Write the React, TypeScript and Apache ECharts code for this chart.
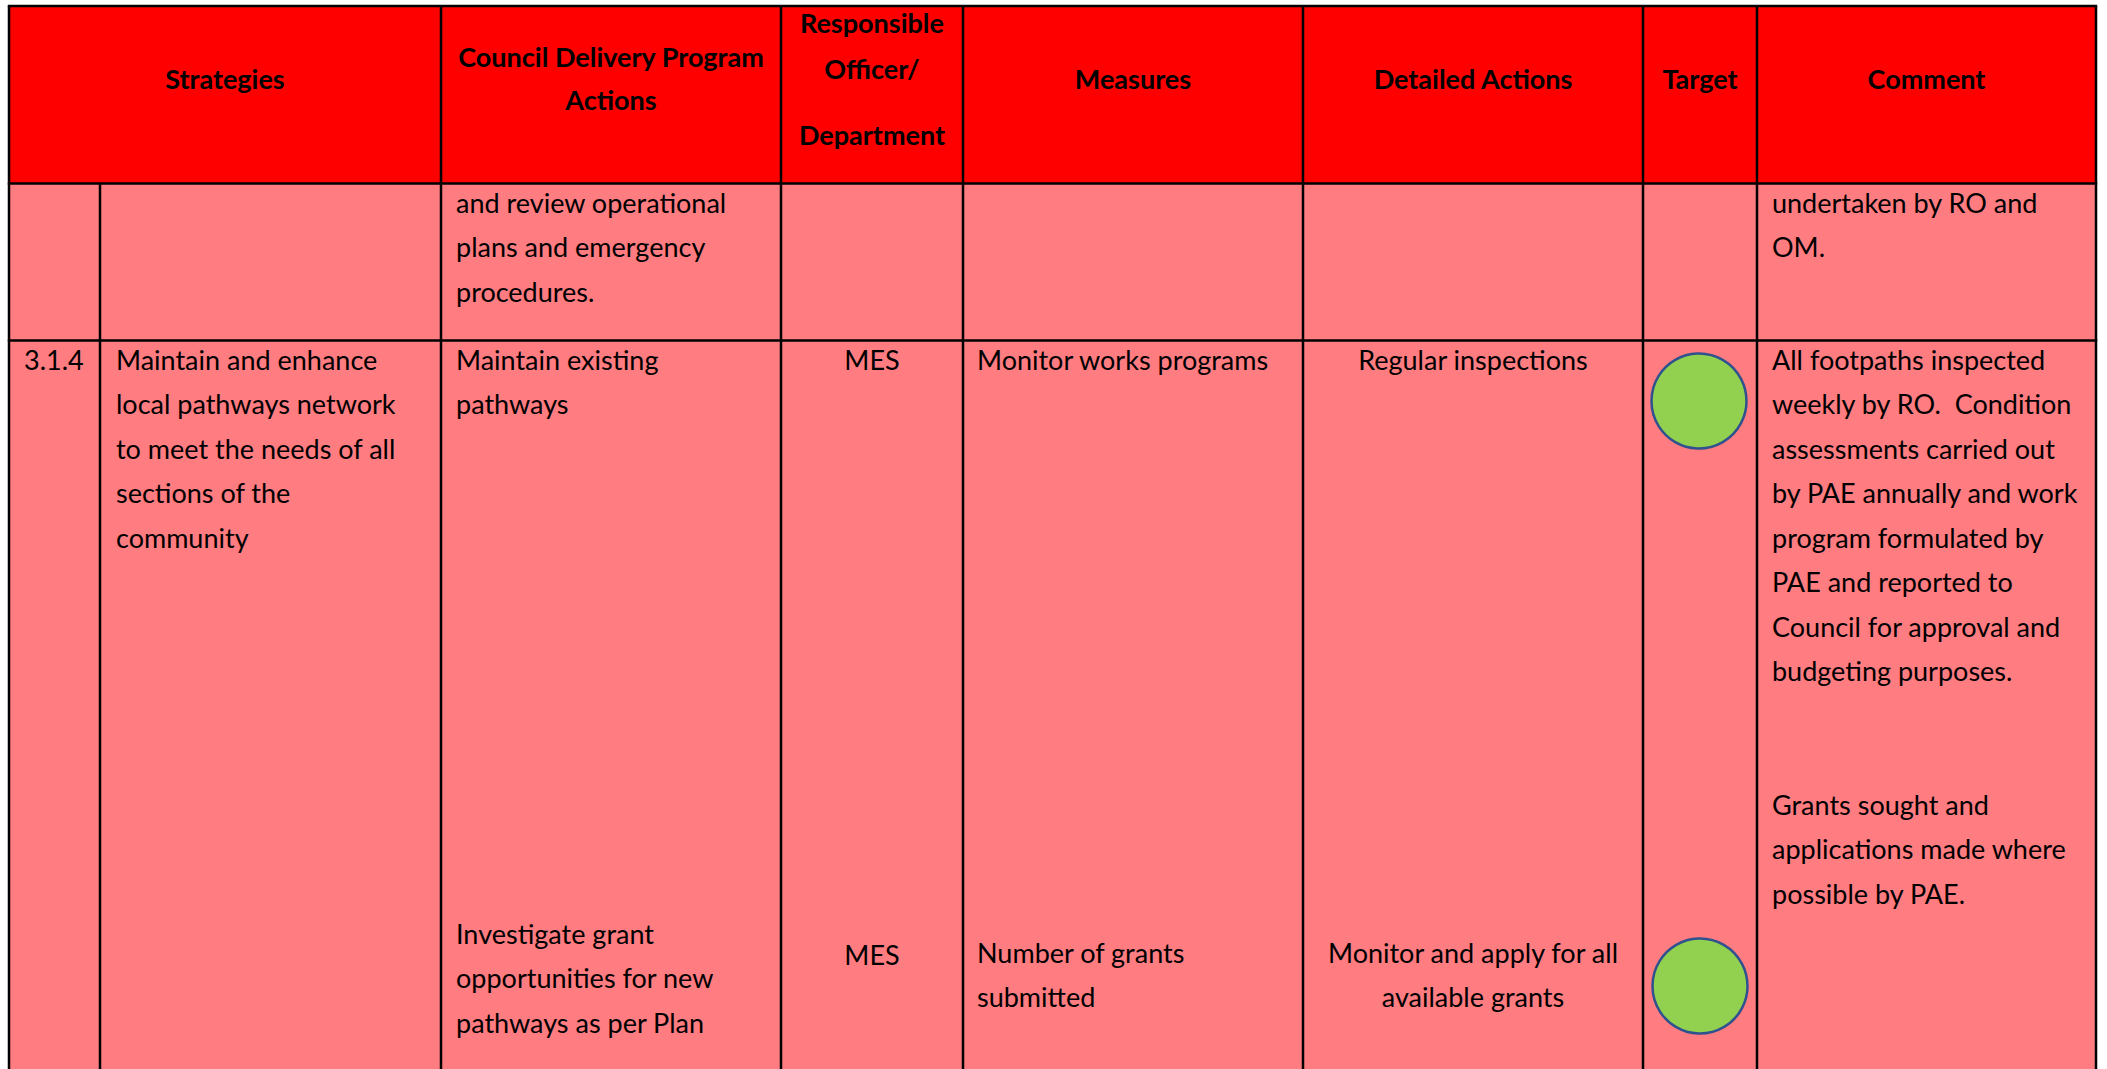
import React, { useEffect, useRef } from "react";
import * as echarts from "echarts";

// ---------- content ----------
const headerStrategies = ["Strategies"];
const headerCouncil = ["Council Delivery Program", "Actions"];
const headerOfficer = ["Responsible", "Officer/", "Department"];
const headerMeasures = ["Measures"];
const headerDetailed = ["Detailed Actions"];
const headerTarget = ["Target"];
const headerComment = ["Comment"];

const row1Council = ["and review operational", "plans and emergency", "procedures."];
const row1Comment = ["undertaken by RO and", "OM."];

const row2Code = ["3.1.4"];
const row2Strategy = ["Maintain and enhance", "local pathways network", "to meet the needs of all", "sections of the", "community"];
const row2CouncilA = ["Maintain existing", "pathways"];
const row2CouncilB = ["Investigate grant", "opportunities for new", "pathways as per Plan"];
const row2OfficerA = ["MES"];
const row2OfficerB = ["MES"];
const row2MeasuresA = ["Monitor works programs"];
const row2MeasuresB = ["Number of grants", "submitted"];
const row2DetailedA = ["Regular inspections"];
const row2DetailedB = ["Monitor and apply for all", "available grants"];
const row2Comment = [
  "All footpaths inspected",
  "weekly by RO.  Condition",
  "assessments carried out",
  "by PAE annually and work",
  "program formulated by",
  "PAE and reported to",
  "Council for approval and",
  "budgeting purposes.",
  "",
  "",
  "Grants sought and",
  "applications made where",
  "possible by PAE.",
];
const targetStatus = ["green", "green"];

// ---------- layout ----------
const COLS = [9, 100, 441, 781, 963, 1303, 1643, 1757, 2096];
const TOP = 6;
const HEAD_BOTTOM = 183.5;
const ROW1_BOTTOM = 340.5;
const BOTTOM = 1069;
const PITCH = 44.5;
const FONT = "Lato, 'Open Sans', sans-serif";
const FS = 27;
const HEADER_RED = "#FF0000";
const BODY_PINK = "#FF7C80";
const STATUS_FILL: Record<string, string> = { green: "#92D050" };

function textLines(
  lines: string[],
  x: number,
  firstBaseline: number,
  align: "left" | "center",
  bold = false,
  pitch = PITCH
) {
  return lines
    .map((t, i) => ({ t, i }))
    .filter((o) => o.t.length > 0)
    .map(({ t, i }) => ({
      type: "text",
      x,
      y: firstBaseline + i * pitch,
      style: {
        text: t,
        fill: "#000",
        font: `${bold ? "bold " : ""}${FS}px ${FONT}`,
        textAlign: align,
        textVerticalAlign: "bottom",
      },
    }));
}

function mid(a: number, b: number) {
  return (a + b) / 2;
}

export default function App() {
  const ref = useRef<HTMLDivElement>(null);

  useEffect(() => {
    document.body.style.margin = "0";
    if (!ref.current) return;
    const chart = echarts.init(ref.current, undefined, { renderer: "svg" });

    const els: any[] = [];
    // fills
    els.push({
      type: "rect",
      shape: { x: COLS[0], y: TOP, width: COLS[8] - COLS[0], height: HEAD_BOTTOM - TOP },
      style: { fill: HEADER_RED },
    });
    els.push({
      type: "rect",
      shape: { x: COLS[0], y: HEAD_BOTTOM, width: COLS[8] - COLS[0], height: BOTTOM - HEAD_BOTTOM },
      style: { fill: BODY_PINK },
    });

    const B = (b: number) => b + 2.5;

    // header text
    els.push(...textLines(headerStrategies, mid(COLS[0], COLS[2]), B(89), "center", true));
    els.push(...textLines(headerCouncil, mid(COLS[2], COLS[3]), B(67), "center", true, 43));
    els.push(...textLines(headerOfficer.slice(0, 2), mid(COLS[3], COLS[4]), B(33), "center", true, 46));
    els.push(...textLines(headerOfficer.slice(2), mid(COLS[3], COLS[4]), B(145), "center", true));
    els.push(...textLines(headerMeasures, mid(COLS[4], COLS[5]), B(89), "center", true));
    els.push(...textLines(headerDetailed, mid(COLS[5], COLS[6]), B(89), "center", true));
    els.push(...textLines(headerTarget, mid(COLS[6], COLS[7]), B(89), "center", true));
    els.push(...textLines(headerComment, mid(COLS[7], COLS[8]), B(89), "center", true));

    // row 1
    els.push(...textLines(row1Council, COLS[2] + 15, B(213), "left"));
    els.push(...textLines(row1Comment, COLS[7] + 15, B(213), "left"));

    // row 2
    els.push(...textLines(row2Code, COLS[0] + 15, B(370), "left"));
    els.push(...textLines(row2Strategy, COLS[1] + 16, B(370), "left"));
    els.push(...textLines(row2CouncilA, COLS[2] + 15, B(370), "left"));
    els.push(...textLines(row2CouncilB, COLS[2] + 15, B(944), "left"));
    els.push(...textLines(row2OfficerA, mid(COLS[3], COLS[4]), B(370), "center"));
    els.push(...textLines(row2OfficerB, mid(COLS[3], COLS[4]), B(965), "center"));
    els.push(...textLines(row2MeasuresA, COLS[4] + 14, B(370), "left"));
    els.push(...textLines(row2MeasuresB, COLS[4] + 14, B(963), "left"));
    els.push(...textLines(row2DetailedA, mid(COLS[5], COLS[6]), B(370), "center"));
    els.push(...textLines(row2DetailedB, mid(COLS[5], COLS[6]), B(963), "center"));
    els.push(...textLines(row2Comment, COLS[7] + 15, B(370), "left"));

    // status circles
    const circleCenters = [
      [1699, 401],
      [1700, 986],
    ];
    targetStatus.forEach((s, i) => {
      els.push({
        type: "circle",
        shape: { cx: circleCenters[i][0], cy: circleCenters[i][1], r: 47.5 },
        style: { fill: STATUS_FILL[s], stroke: "#2F528F", lineWidth: 2.5 },
      });
    });

    // grid lines
    const lineStyle = { stroke: "#000", lineWidth: 2.5 };
    [TOP, HEAD_BOTTOM, ROW1_BOTTOM].forEach((y) => {
      els.push({ type: "line", shape: { x1: COLS[0] - 1.2, y1: y, x2: COLS[8] + 1.2, y2: y }, style: lineStyle });
    });
    COLS.forEach((x, i) => {
      els.push({
        type: "line",
        shape: { x1: x, y1: i === 1 ? HEAD_BOTTOM : TOP, x2: x, y2: BOTTOM },
        style: lineStyle,
      });
    });

    chart.setOption({
      animation: false,
      backgroundColor: "#ffffff",
      graphic: { elements: els },
    });
    return () => chart.dispose();
  }, []);

  return (
    <div
      ref={ref}
      style={{ position: "fixed", left: 0, top: 0, width: 2107, height: 1069, background: "#fff" }}
    />
  );
}
